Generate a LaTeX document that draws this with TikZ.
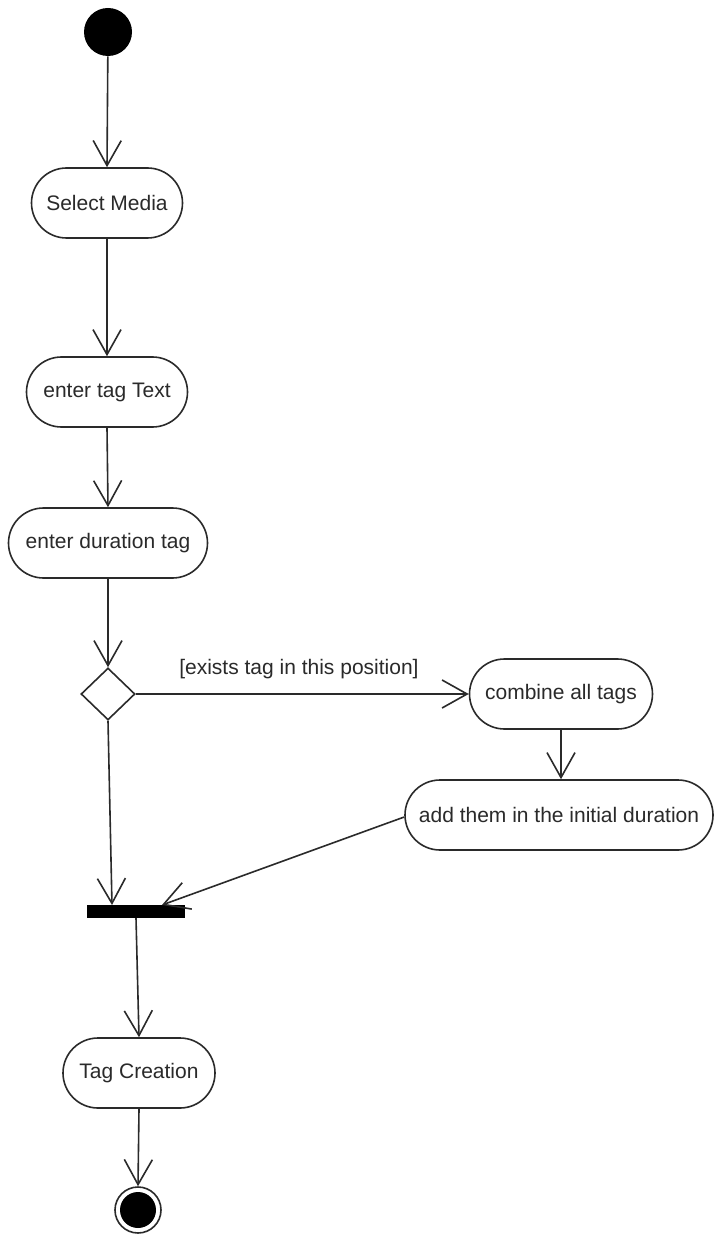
\documentclass[tikz,border=0pt]{standalone}
\usepackage{fontspec}
\setmainfont{Liberation Sans}
\usetikzlibrary{arrows.meta,shapes.geometric,calc}
\definecolor{ink}{HTML}{2A2A2A}
\begin{document}
\begin{tikzpicture}[x=0.5pt,y=-0.5pt,
  every node/.style={text=ink},
  action/.style={draw=ink,line width=0.8pt,rectangle,rounded corners=17.5pt,
    minimum height=35pt,inner sep=0pt,font=\fontsize{10.5pt}{12pt}\selectfont},
  flow/.style={draw=ink,line width=0.8pt,-{Straight Barb[length=12.5pt,width=14pt,line width=0.8pt]}},
  guard/.style={font=\fontsize{10.5pt}{12pt}\selectfont}]
\useasboundingbox[fill=white] (0,0) rectangle (715,1235);

% initial and final states
\node[circle,fill=black,minimum size=24pt,inner sep=0pt] (start) at (108,32) {};
\node[circle,draw=ink,line width=0.8pt,minimum size=23pt,inner sep=0pt] (final) at (138,1210) {};
\fill[black] (final.center) circle (9pt);

% actions
\node[action,minimum width=75.5pt] (sel) at (107,203) {Select Media};
\node[action,minimum width=80.5pt] (txt) at (107,392) {enter tag Text};
\node[action,minimum width=99.5pt] (dur) at (108,543) {enter duration tag};
\node[action,minimum width=91.5pt] (comb) at (561,694) {combine all tags};
\node[action,minimum width=154pt] (add) at (559,815) {add them in the initial duration};
\node[action,minimum width=76pt] (tag) at (139,1073) {Tag Creation};

% decision and join bar
\node[diamond,draw=ink,line width=0.8pt,minimum width=27pt,minimum height=26pt,inner sep=0pt] (dec) at (108,694) {};
\node[rectangle,draw=none,fill=black,minimum width=49pt,minimum height=6.5pt,inner sep=0pt,outer sep=0pt] (bar) at (136,911.5) {};

% control flows
\draw[flow] (start) -- (sel.north);
\draw[flow] (sel.south) -- (txt.north);
\draw[flow] (txt.south) -- (dur.north);
\draw[flow] (dur.south) -- (dec.north);
\draw[flow] (dec.east) -- node[guard,above=4pt,pos=0.49] {[exists tag in this position]} (comb.west);
\draw[flow] (comb.south) -- (comb.south |- add.north);
\draw[flow] (dec.south) -- ($(bar.north west)!0.255!(bar.north east)$);
\draw[flow] ($(add.west)+(0,2)$) -- ($(bar.north west)!0.765!(bar.north east)$);
\draw[flow] (bar.south) -- (tag.north);
\draw[flow] (tag.south) -- (final.north);
\end{tikzpicture}
\end{document}
